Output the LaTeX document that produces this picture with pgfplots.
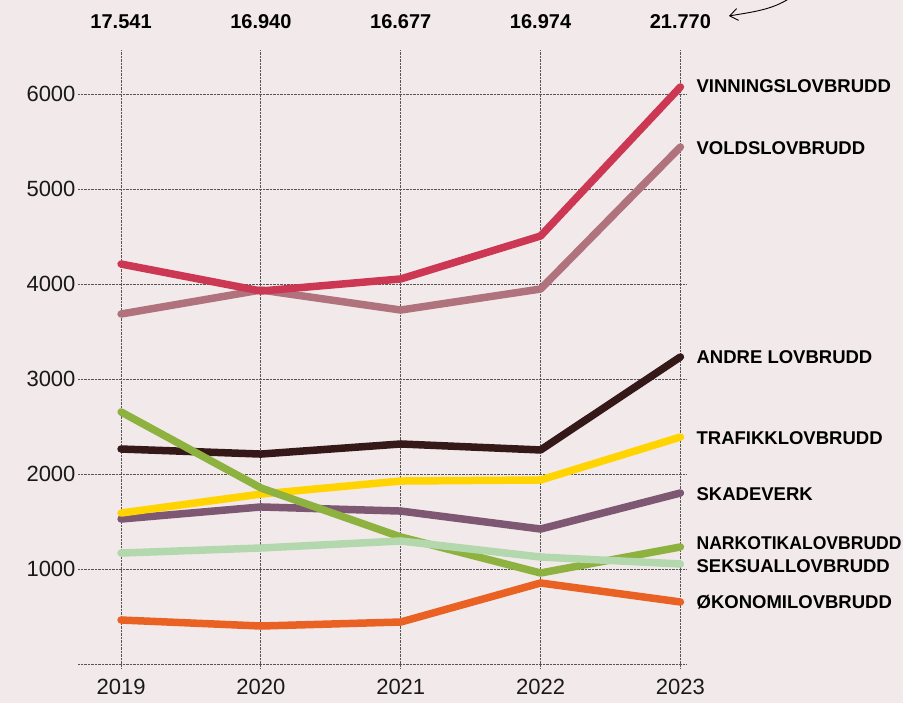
\documentclass[border=0pt]{standalone}
\usepackage{pgfplots}
\pgfplotsset{compat=1.18}
\usepackage{fontspec}
\setmainfont{Liberation Sans}
\usetikzlibrary{arrows.meta}
\definecolor{bg}{RGB}{242,233,234}
\definecolor{cvin}{RGB}{204,56,83}
\definecolor{cvol}{RGB}{176,115,126}
\definecolor{cand}{RGB}{53,24,24}
\definecolor{ctra}{RGB}{255,212,0}
\definecolor{cska}{RGB}{126,87,114}
\definecolor{cnar}{RGB}{141,178,63}
\definecolor{csek}{RGB}{180,216,173}
\definecolor{coko}{RGB}{234,97,36}
\definecolor{gridc}{RGB}{90,85,85}
\begin{document}
\begin{tikzpicture}[x=1pt,y=1pt]
\useasboundingbox (0pt,0pt) rectangle (903pt,-703pt);
\fill[bg] (0pt,0pt) rectangle (903pt,-703pt);
\draw[line width=0.9pt,-{Straight Barb[length=8pt,width=12pt]}] (790pt,2pt) .. controls (772pt,-10pt) and (752pt,-12pt) .. (729pt,-16pt);
\begin{axis}[
  at={(78pt,-668pt)}, anchor=south west,
  scale only axis, width=608pt, height=618pt,
  xmin=-0.308, xmax=4.04, ymin=-42, ymax=6463,
  axis line style={draw=none},
  major tick length=0pt,
  xtick={0,1,2,3,4}, xticklabels={2019,2020,2021,2022,2023},
  ytick={0,1000,2000,3000,4000,5000,6000},
  yticklabels={,1000,2000,3000,4000,5000,6000},
  /pgf/number format/assume math mode=true,
  ticklabel style={font=\fontsize{22}{26}\selectfont, text=black!90},
  xticklabel style={yshift=-8pt},
  yticklabel style={xshift=1pt},
  grid=major,
  major grid style={densely dotted, line width=0.9pt, gridc},
  clip=false,
  every axis plot/.append style={line width=7.5pt, line cap=round, line join=round},
]
\addplot[coko] coordinates {(0,463) (1,400) (2,442) (3,853) (4,653)};
\addplot[cska] coordinates {(0,1526) (1,1653) (2,1610) (3,1421) (4,1800)};
\addplot[ctra] coordinates {(0,1589) (1,1789) (2,1926) (3,1937) (4,2389)};
\addplot[cand] coordinates {(0,2263) (1,2210) (2,2316) (3,2253) (4,3232)};
\addplot[cnar] coordinates {(0,2653) (1,1853) (2,1337) (3,958) (4,1232)};
\addplot[csek] coordinates {(0,1168) (1,1221) (2,1295) (3,1126) (4,1053)};
\addplot[cvol] coordinates {(0,3684) (1,3937) (2,3726) (3,3947) (4,5442)};
\addplot[cvin] coordinates {(0,4210) (1,3926) (2,4053) (3,4505) (4,6074)};
\begin{scope}[every node/.style={font=\bfseries\fontsize{20}{22}\selectfont, anchor=center}]
\node at (axis cs:0,6463) [yshift=28pt] {17.541};
\node at (axis cs:1,6463) [yshift=28pt] {16.940};
\node at (axis cs:2,6463) [yshift=28pt] {16.677};
\node at (axis cs:3,6463) [yshift=28pt] {16.974};
\node at (axis cs:4,6463) [yshift=28pt] {21.770};
\end{scope}
\begin{scope}[every node/.style={font=\bfseries\fontsize{18.5}{20}\selectfont, anchor=west, xshift=16pt, inner sep=0pt}]
\node at (axis cs:4,6074) [yshift=1pt] {VINNINGSLOVBRUDD};
\node at (axis cs:4,5442) [yshift=-1pt] {VOLDSLOVBRUDD};
\node at (axis cs:4,3232) {ANDRE LOVBRUDD};
\node at (axis cs:4,2389) [yshift=-1pt] {TRAFIKKLOVBRUDD};
\node at (axis cs:4,1800) [yshift=-1pt] {SKADEVERK};
\node at (axis cs:4,1232) [yshift=4pt] {\scalebox{0.95}[1]{NARKOTIKALOVBRUDD}};
\node at (axis cs:4,1053) [yshift=-2pt] {SEKSUALLOVBRUDD};
\node at (axis cs:4,653) {ØKONOMILOVBRUDD};
\end{scope}
\end{axis}
\end{tikzpicture}
\end{document}
